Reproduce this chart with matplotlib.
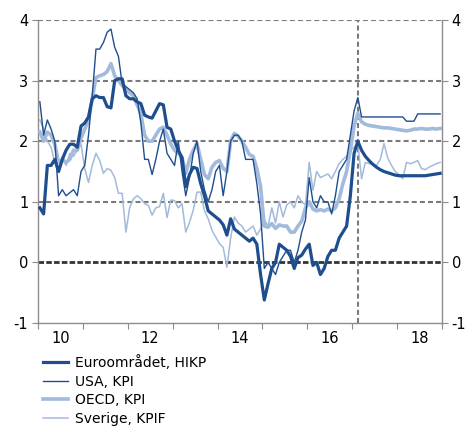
import numpy as np
import matplotlib
matplotlib.use("Agg")
import matplotlib.pyplot as plt

# Monthly data, Jan 2010 - Dec 2018 (annual % change)
euro = [0.9, 0.8, 1.6, 1.6, 1.7, 1.5, 1.7, 1.85, 1.95, 1.95, 1.9, 2.25,
        2.3, 2.4, 2.7, 2.75, 2.72, 2.72, 2.57, 2.55, 3.0, 3.03, 3.03, 2.75,
        2.7, 2.7, 2.65, 2.62, 2.43, 2.4, 2.38, 2.5, 2.62, 2.6, 2.23, 2.2,
        2.0, 1.85, 1.73, 1.25, 1.45, 1.57, 1.55, 1.3, 1.1, 0.85, 0.8, 0.75,
        0.7, 0.62, 0.45, 0.72, 0.55, 0.5, 0.45, 0.4, 0.35, 0.4, 0.3, -0.2,
        -0.62, -0.35, -0.1, 0.0, 0.3, 0.25, 0.2, 0.1, -0.1, 0.08, 0.12, 0.22,
        0.3, -0.05, 0.0, -0.2, -0.1, 0.1, 0.2, 0.2, 0.4, 0.5, 0.6, 1.1,
        1.8, 2.0, 1.85, 1.75, 1.68, 1.62, 1.57, 1.53, 1.5, 1.48, 1.46, 1.44,
        1.43, 1.43, 1.43, 1.43, 1.43, 1.43, 1.43, 1.43, 1.44, 1.45, 1.46, 1.47]

usa = [2.65, 2.1, 2.35, 2.2, 2.0, 1.1, 1.2, 1.1, 1.15, 1.2, 1.1, 1.5,
       1.6, 2.1, 2.75, 3.52, 3.52, 3.63, 3.8, 3.85, 3.55, 3.4, 2.95, 2.9,
       2.85, 2.8, 2.7, 2.3, 1.7, 1.7, 1.45, 1.7, 2.0, 2.2, 1.8, 1.7,
       1.6, 2.0, 1.5, 1.1, 1.4, 1.8, 2.0, 1.5, 1.2, 1.0, 1.2, 1.5,
       1.6, 1.1, 1.5, 2.0, 2.1, 2.1, 2.0, 1.7, 1.7, 1.7, 1.3, 0.8,
       -0.1, 0.0, -0.1, -0.2, 0.0, 0.1, 0.2, 0.2, 0.0, 0.2, 0.5, 0.7,
       1.4, 1.0, 0.9, 1.1, 1.0, 1.0, 0.8, 1.1, 1.5, 1.6, 1.7, 2.1,
       2.5, 2.72, 2.4, 2.4, 2.4, 2.4, 2.4, 2.4, 2.4, 2.4, 2.4, 2.4,
       2.4, 2.4, 2.33, 2.33, 2.33, 2.45, 2.45, 2.45, 2.45, 2.45, 2.45, 2.45]

oecd = [2.15, 2.0, 2.15, 2.1, 1.95, 1.65, 1.7, 1.65, 1.7, 1.85, 1.85, 2.05,
        2.2, 2.35, 2.7, 3.05, 3.08, 3.1, 3.15, 3.28, 3.08, 3.0, 2.92, 2.85,
        2.8, 2.75, 2.6, 2.45, 2.1, 2.0, 2.0, 2.1, 2.2, 2.23, 2.1, 1.95,
        1.85, 1.8, 1.73, 1.47, 1.7, 1.85, 1.96, 1.7, 1.45, 1.38, 1.57, 1.65,
        1.68, 1.55, 1.5, 2.0, 2.13, 2.08, 2.0, 1.9, 1.78, 1.75, 1.55, 1.25,
        0.6, 0.58, 0.64, 0.56, 0.62, 0.6, 0.6, 0.5, 0.5, 0.6, 0.68, 0.9,
        1.0, 0.88, 0.85, 0.87, 0.85, 0.88, 0.85, 0.9, 1.05, 1.3, 1.5, 1.85,
        2.25, 2.46, 2.32, 2.28, 2.26, 2.25, 2.24, 2.23, 2.22, 2.22, 2.21, 2.2,
        2.19, 2.18, 2.17, 2.18, 2.2, 2.2, 2.21, 2.2, 2.2, 2.21, 2.2, 2.21]

sverige = [2.35, 2.2, 2.0, 1.9, 1.65, 1.5, 1.75, 1.6, 1.8, 1.75, 1.85, 1.95,
           1.55, 1.32, 1.6, 1.8, 1.68, 1.47, 1.55, 1.52, 1.4, 1.14, 1.14, 0.5,
           0.9, 1.05, 1.1, 1.05, 0.97, 0.94, 0.78, 0.9, 0.92, 1.14, 0.74, 1.03,
           1.02, 0.9, 0.97, 0.5, 0.66, 0.86, 1.16, 1.16, 0.85, 0.72, 0.53, 0.42,
           0.31, 0.25, -0.08, 0.4, 0.75, 0.65, 0.6, 0.5, 0.55, 0.6, 0.45, 0.55,
           0.7, 0.6, 0.9, 0.65, 1.0, 0.75, 0.95, 1.0, 0.9, 1.1, 1.0, 0.95,
           1.65, 1.19, 1.5, 1.4, 1.43, 1.46, 1.38, 1.5, 1.63, 1.7, 1.75, 1.85,
           1.9, 1.96, 1.38, 1.65, 1.63, 1.62, 1.6, 1.7, 1.96, 1.72, 1.6, 1.5,
           1.45, 1.38, 1.65, 1.63, 1.65, 1.68, 1.55, 1.53, 1.57, 1.6, 1.63, 1.65]

labels = ["Euroområdet, HIKP", "USA, KPI", "OECD, KPI", "Sverige, KPIF"]
xtick_labels = ["10", "12", "14", "16", "18"]
forecast_start = 2017.125

t = 2010 + (np.arange(len(euro)) + 0.5) / 12.0

dark = "#1f4e8f"
light = "#a2badb"
gray = "#7a7a7a"

plt.rcParams['font.family'] = ['DejaVu Sans']
fig = plt.figure(figsize=(4.69, 4.26), dpi=100)
ax = fig.add_axes([38/469, 1-323/426, (442-38)/469, (323-20)/426])

ax.set_xlim(2010, 2019)
ax.set_ylim(-1, 4)

# grid
for y in [1, 2, 3, 4]:
    ax.axhline(y, color=gray, lw=1.5, dashes=(2.4, 1.5), zorder=1)
ax.axhline(0, color="#333333", lw=2.0, dashes=(2.0, 0.8), zorder=1)
ax.axvline(forecast_start, color=gray, lw=1.5, dashes=(2.4, 1.5), zorder=1)

l4, = ax.plot(t, sverige, color=light, lw=1.1, zorder=2)
l3, = ax.plot(t, oecd, color=light, lw=2.6, zorder=3)
l2, = ax.plot(t, usa, color=dark, lw=1.0, zorder=4)
l1, = ax.plot(t, euro, color=dark, lw=2.3, zorder=5)

for s in ["top"]:
    ax.spines[s].set_visible(False)
for s in ["left", "right", "bottom"]:
    ax.spines[s].set_color("#8c8c8c")
    ax.spines[s].set_linewidth(1.0)

ax.set_yticks(range(-1, 5))
ax.set_yticklabels([str(v) for v in range(-1, 5)])
ax.tick_params(axis="y", which="both", left=True, right=True, labelleft=True,
               labelright=True, direction="out", length=4, color="#8c8c8c",
               labelsize=10.5, pad=3)

ax.set_xticks(np.arange(2010, 2020, 1))
ax.set_xticklabels([])
ax.set_xticks([2010.5, 2012.5, 2014.5, 2016.5, 2018.5], minor=True)
ax.set_xticklabels(xtick_labels, minor=True)
ax.tick_params(axis="x", which="major", direction="out", length=4, color="#8c8c8c")
ax.tick_params(axis="x", which="minor", length=0, labelsize=10.5, pad=6)

fig.legend([l1, l2, l3, l4], labels, loc="upper left",
           bbox_to_anchor=(43/469, 1-355/426), frameon=False, fontsize=10,
           handlelength=1.8, handletextpad=0.5, labelspacing=0.33,
           borderpad=0, borderaxespad=0)

fig.savefig("out.png", dpi=100)
